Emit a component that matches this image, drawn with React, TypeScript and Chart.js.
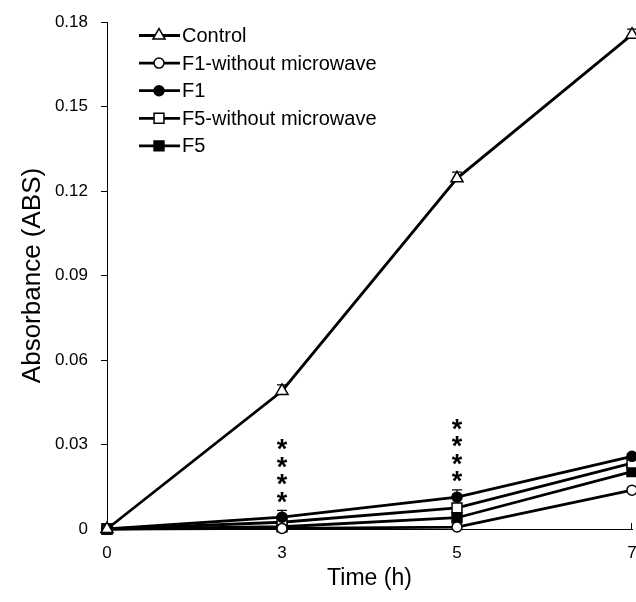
import React, { useEffect, useRef } from "react";
import { Chart, registerables } from "chart.js";
Chart.register(...registerables);

const categories = ["0", "3", "5", "7"];
const seriesNames = ["Control", "F1-without microwave", "F1", "F5-without microwave", "F5"];
const controlValues = [0, 0.049, 0.1245, 0.1755];
const f1WithoutValues = [0, 0.0002, 0.0007, 0.0138];
const f1Values = [0, 0.0042, 0.0113, 0.0258];
const f5WithoutValues = [0, 0.0024, 0.0075, 0.0234];
const f5Values = [0, 0.0008, 0.004, 0.0204];
const controlErr = [0, 0.0022, 0.0022, 0.002];
const f1Err = [0, 0.0024, 0.0026, 0.001];
const yTicks = [0, 0.03, 0.06, 0.09, 0.12, 0.15, 0.18];
const yTickLabels = ["0", "0.03", "0.06", "0.09", "0.12", "0.15", "0.18"];
const sigCategoryIndexes = [1, 2];
const sigMark = "*";
const sigCount = 4;

const FONT = "'Liberation Sans', Arial, sans-serif";

type Style = { pointStyle: string; radius: number; fill: string };
const styles: Style[] = [
  { pointStyle: "triangle", radius: 7, fill: "#ffffff" },
  { pointStyle: "circle", radius: 5, fill: "#ffffff" },
  { pointStyle: "circle", radius: 5, fill: "#000000" },
  { pointStyle: "rect", radius: 7, fill: "#ffffff" },
  { pointStyle: "rect", radius: 7, fill: "#000000" },
];
const allValues = [controlValues, f1WithoutValues, f1Values, f5WithoutValues, f5Values];
const allErr = [controlErr, null, f1Err, null, null];

function drawMarker(ctx: CanvasRenderingContext2D, st: Style, x: number, y: number) {
  ctx.save();
  ctx.beginPath();
  const r = st.radius;
  if (st.pointStyle === "circle") {
    ctx.arc(x, y, r, 0, Math.PI * 2);
  } else if (st.pointStyle === "rect") {
    const s = Math.SQRT1_2 * r;
    ctx.rect(x - s, y - s, 2 * s, 2 * s);
  } else {
    let rad = 0;
    ctx.moveTo(x + Math.sin(rad) * r, y - Math.cos(rad) * r);
    rad += (2 * Math.PI) / 3;
    ctx.lineTo(x + Math.sin(rad) * r, y - Math.cos(rad) * r);
    rad += (2 * Math.PI) / 3;
    ctx.lineTo(x + Math.sin(rad) * r, y - Math.cos(rad) * r);
    ctx.closePath();
  }
  ctx.fillStyle = st.fill;
  ctx.fill();
  ctx.lineWidth = 1.5;
  ctx.strokeStyle = "#000";
  ctx.stroke();
  ctx.restore();
}

const overlayPlugin = {
  id: "overlay",
  beforeDatasetsDraw(chart: any) {
    const ctx = chart.ctx as CanvasRenderingContext2D;
    const xs = chart.scales.x;
    const ys = chart.scales.y;
    ctx.save();
    ctx.strokeStyle = "#000";
    ctx.lineWidth = 1.2;
    allErr.forEach((errs, i) => {
      if (!errs) return;
      errs.forEach((e, j) => {
        if (!e) return;
        const x = xs.getPixelForValue(j);
        const y0 = ys.getPixelForValue(allValues[i][j]);
        const y1 = ys.getPixelForValue(allValues[i][j] + e);
        ctx.beginPath();
        ctx.moveTo(x, y0);
        ctx.lineTo(x, y1);
        ctx.moveTo(x - 5, y1);
        ctx.lineTo(x + 5, y1);
        ctx.stroke();
      });
    });
    ctx.restore();
  },
  afterDatasetsDraw(chart: any) {
    const ctx = chart.ctx as CanvasRenderingContext2D;
    const xs = chart.scales.x;
    const ys = chart.scales.y;
    ctx.save();
    ctx.fillStyle = "#000";
    ctx.font = `bold 27px ${FONT}`;
    ctx.textAlign = "center";
    ctx.textBaseline = "alphabetic";
    const m = ctx.measureText(sigMark);
    const centerShift = (m.actualBoundingBoxDescent - m.actualBoundingBoxAscent) / 2;
    sigCategoryIndexes.forEach((j) => {
      const top = Math.max(f1Values[j] + f1Err[j], f1WithoutValues[j], f5Values[j], f5WithoutValues[j]);
      const x = xs.getPixelForValue(j);
      const capY = ys.getPixelForValue(top);
      for (let k = 0; k < sigCount; k++) {
        const cy = capY - 13 - k * 17.5;
        ctx.fillText(sigMark, x, cy - centerShift);
      }
    });
    // x-axis end tick
    ctx.strokeStyle = "#000";
    ctx.lineWidth = 1;
    const xr = chart.chartArea.right;
    const yb = chart.chartArea.bottom;
    ctx.beginPath();
    ctx.moveTo(xr - 0.5, yb);
    ctx.lineTo(xr - 0.5, yb - 6);
    ctx.stroke();
    ctx.restore();
  },
  afterDraw(chart: any) {
    const ctx = chart.ctx as CanvasRenderingContext2D;
    const x0 = 139;
    const x1 = 180;
    const xm = 159;
    const yStart = 35.5;
    const step = 27.6;
    ctx.save();
    seriesNames.forEach((name, i) => {
      const y = yStart + i * step;
      ctx.beginPath();
      ctx.moveTo(x0, y);
      ctx.lineTo(x1, y);
      ctx.strokeStyle = "#000";
      ctx.lineWidth = 2.8;
      ctx.stroke();
      drawMarker(ctx, styles[i], xm, y);
      ctx.fillStyle = "#000";
      ctx.font = `20px ${FONT}`;
      ctx.textAlign = "left";
      ctx.textBaseline = "middle";
      ctx.fillText(name, 182, y + 1);
    });
    ctx.restore();
  },
};

export default function App() {
  const ref = useRef<HTMLCanvasElement | null>(null);
  useEffect(() => {
    if (!ref.current) return;
    const datasets = seriesNames.map((name, i) => ({
      label: name,
      data: allValues[i],
      borderColor: "#000",
      borderWidth: 2.8,
      backgroundColor: styles[i].fill,
      pointStyle: styles[i].pointStyle,
      pointRadius: styles[i].radius,
      pointHoverRadius: styles[i].radius,
      pointBackgroundColor: styles[i].fill,
      pointBorderColor: "#000",
      pointBorderWidth: 1.5,
      tension: 0,
      fill: false,
      clip: false as any,
    }));
    const chart = new Chart(ref.current, {
      type: "line",
      data: { labels: categories, datasets },
      options: {
        animation: false,
        responsive: false,
        layout: { autoPadding: false, padding: { top: 22, right: 4, left: 0, bottom: 0 } },
        plugins: { legend: { display: false }, tooltip: { enabled: false } },
        scales: {
          x: {
            type: "category",
            offset: false,
            grid: { display: false, drawTicks: false },
            border: { display: true, color: "#000", width: 1 },
            ticks: { color: "#000", font: { family: FONT, size: 17 }, padding: 14, maxRotation: 0, autoSkip: false },
            title: { display: true, text: "Time (h)", color: "#000", font: { family: FONT, size: 23 }, padding: { top: 0, bottom: 10 } },
            afterFit: (s: any) => { s.height = 73; s.paddingLeft = 0; s.paddingRight = 0; },
          },
          y: {
            min: 0,
            max: 0.18,
            grid: { drawOnChartArea: false, drawTicks: true, tickLength: 6, color: "#000" },
            border: { display: true, color: "#000", width: 1 },
            afterBuildTicks: (s: any) => { s.ticks = yTicks.map((v) => ({ value: v })); },
            ticks: {
              color: "#000",
              font: { family: FONT, size: 17 },
              padding: 13,
              callback: (v: any) => { const k = yTicks.indexOf(Number(v)); return k >= 0 ? yTickLabels[k] : ""; },
            },
            title: { display: true, text: "Absorbance (ABS)", color: "#000", font: { family: FONT, size: 26 }, padding: { top: 17, bottom: 0 } },
            afterFit: (s: any) => { s.width = 107; s.paddingTop = 0; s.paddingBottom = 0; },
          },
        },
      },
      plugins: [overlayPlugin],
    });
    return () => chart.destroy();
  }, []);
  return (
    <div style={{ position: "absolute", left: 0, top: 0, width: 636, height: 602, background: "#fff" }}>
      <canvas ref={ref} width={636} height={602} style={{ width: 636, height: 602, display: "block" }} />
    </div>
  );
}
